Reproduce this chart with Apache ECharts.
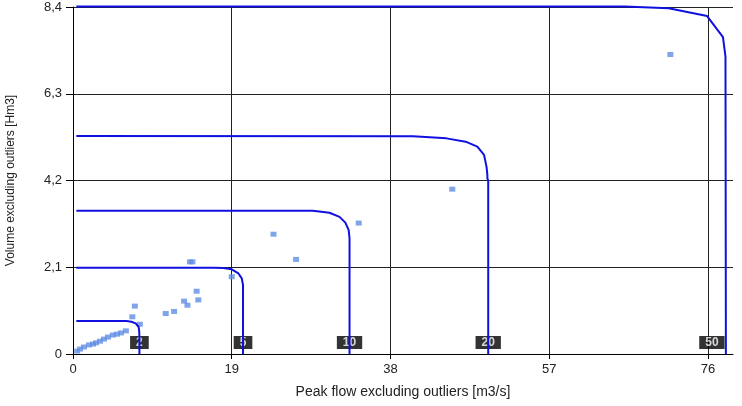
<!DOCTYPE html>
<html>
<head>
<meta charset="utf-8">
<script src="https://cdn.jsdelivr.net/npm/echarts@6/dist/echarts.min.js"></script>
<style>
  html, body { margin: 0; padding: 0; background: #fff; }
  #chart { width: 742px; height: 406px; }
</style>
</head>
<body>
<div id="chart"></div>
<script>
// Axis ranges and ticks
const xMin = 0, xMax = 79, xStep = 19;
const yMin = 0, yMax = 8.4, yStep = 2.1;

// Return-period iso-curves: [peak flow m3/s, volume Hm3]
const curveNames = ['2', '5', '10', '20', '50'];
const curve2 = [[0.4, 0.80], [6.4, 0.80], [7.0, 0.78], [7.5, 0.74], [7.85, 0.66], [7.93, 0.54], [7.95, 0.40], [7.95, 0]];
const curve5 = [[0.4, 2.09], [16.8, 2.09], [18.0, 2.08], [19.0, 2.05], [19.8, 1.95], [20.2, 1.83], [20.35, 1.67], [20.35, 0]];
const curve10 = [[0.4, 3.47], [28.7, 3.47], [30.7, 3.42], [31.9, 3.32], [32.6, 3.18], [33.0, 3.00], [33.1, 2.80], [33.1, 0]];
const curve20 = [[0.4, 5.28], [40.7, 5.27], [44.7, 5.22], [47.0, 5.14], [48.4, 5.02], [49.2, 4.82], [49.5, 4.53], [49.6, 4.33], [49.6, 4.25], [49.7, 4.20], [49.7, 0]];
const curve50 = [[0.4, 8.41], [66.0, 8.41], [71.3, 8.37], [75.9, 8.18], [77.8, 7.67], [78.1, 7.20], [78.15, 0]];
const curves = [curve2, curve5, curve10, curve20, curve50];

// Observed events (outliers excluded)
const obsFlow = [0.5, 0.84, 1.31, 1.91, 2.39, 2.75, 3.23, 3.7, 4.18, 4.78, 5.26, 5.74, 6.33,
  7.1, 7.4, 8.0, 11.1, 12.1, 13.3, 13.7, 14.8, 15.0, 14.0, 14.3, 19.0, 24.0, 26.7, 34.2, 45.4, 71.5];
const obsVolume = [0.07, 0.12, 0.17, 0.22, 0.24, 0.27, 0.31, 0.36, 0.41, 0.46, 0.48, 0.51, 0.56,
  0.90, 1.16, 0.72, 0.98, 1.03, 1.28, 1.18, 1.52, 1.31, 2.23, 2.23, 1.87, 2.90, 2.29, 3.17, 3.99, 7.25];

const fmtComma = v => {
  if (Math.abs(v) < 1e-9) return '0';
  return (Math.round(v * 10) / 10).toFixed(1).replace('.', ',');
};

const font = 'Liberation Sans';
const chart = echarts.init(document.getElementById('chart'));

const series = [];
curves.forEach((c, i) => {
  series.push({
    type: 'line',
    name: curveNames[i],
    data: c,
    showSymbol: false,
    clip: false,
    z: 4,
    lineStyle: { color: '#1010e0', width: 2 },
    emphasis: { disabled: true }
  });
});

// Curve tags sit at the foot of each vertical branch
series.push({
  type: 'scatter',
  data: curves.map((c, i) => ({
    value: [c[c.length - 1][0], 0],
    name: curveNames[i],
    label: i === curves.length - 1 ? { offset: [-14, 0] } : {}
  })),
  symbolSize: 0,
  z: 2,
  silent: true,
  label: {
    show: true,
    position: 'top',
    distance: 5,
    formatter: p => p.name,
    color: '#fff',
    backgroundColor: '#000',
    fontFamily: font,
    fontSize: 12,
    fontWeight: 'bold',
    padding: [1, 6, 0, 6],
    lineHeight: 12
  }
});

series.push({
  type: 'scatter',
  data: obsFlow.map((q, i) => [q, obsVolume[i]]),
  symbol: 'rect',
  symbolSize: [6, 5],
  z: 3,
  itemStyle: { color: '#5f8de4' }
});

chart.setOption({
  animation: false,
  backgroundColor: '#fff',
  grid: { left: 73, right: 9, top: 7, bottom: 52, containLabel: false, outerBoundsMode: 'none' },
  xAxis: {
    type: 'value',
    min: xMin, max: xMax, interval: xStep,
    name: 'Peak flow excluding outliers [m3/s]',
    nameLocation: 'middle',
    nameGap: 31,
    nameTextStyle: { fontFamily: font, fontSize: 14, color: '#222' },
    axisLine: { show: true, lineStyle: { color: '#000', width: 1 } },
    axisTick: { show: true, length: 5, lineStyle: { color: '#000' } },
    axisLabel: { fontFamily: font, fontSize: 13, color: '#222', margin: 9, showMaxLabel: false },
    splitLine: { show: true, showMinLine: false, showMaxLine: false, lineStyle: { color: '#222', width: 1 } }
  },
  yAxis: {
    type: 'value',
    min: yMin, max: yMax, interval: yStep,
    name: 'Volume excluding outliers [Hm3]',
    nameLocation: 'middle',
    nameGap: 56,
    nameRotate: 90,
    nameTextStyle: { fontFamily: font, fontSize: 12, color: '#222' },
    axisLine: { show: true, lineStyle: { color: '#000', width: 1 } },
    axisTick: { show: true, length: 7, lineStyle: { color: '#000' } },
    axisLabel: { fontFamily: font, fontSize: 13, color: '#222', margin: 11, formatter: fmtComma },
    splitLine: { show: true, showMinLine: false, lineStyle: { color: '#222', width: 1 } }
  },
  series: series
});
</script>
</body>
</html>
